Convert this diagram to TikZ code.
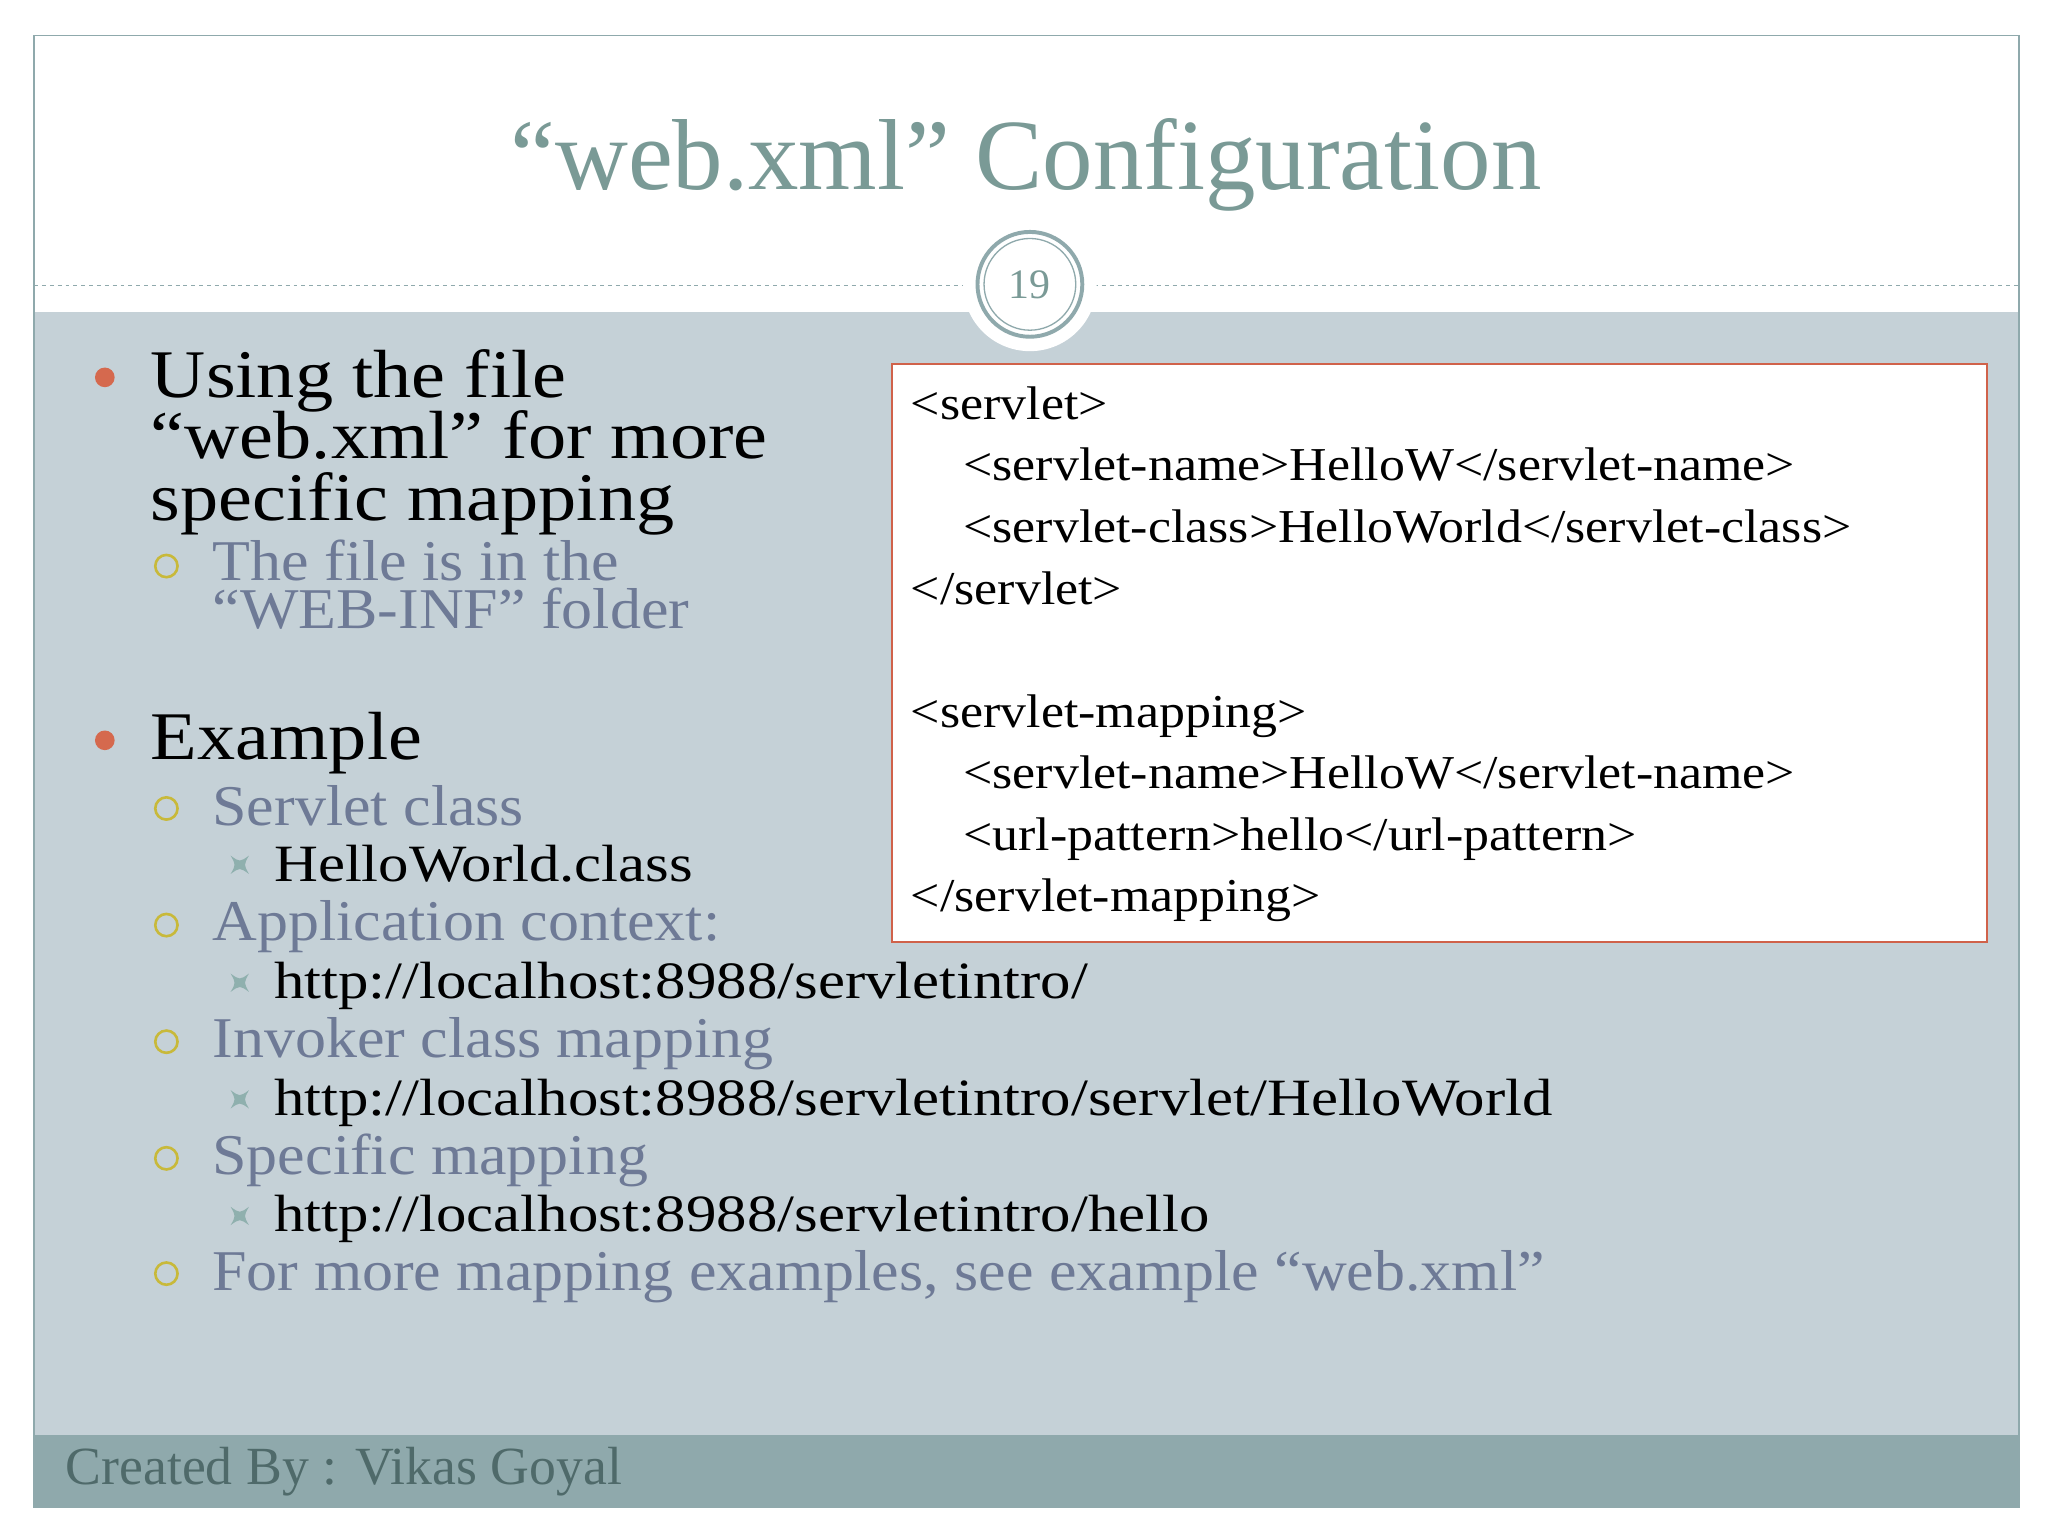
\documentclass[tikz,border=0pt]{standalone}
\usepackage{fontspec}
\usepackage{graphicx}
\setmainfont{Liberation Serif}
\newfontfamily\codefont{Liberation Serif}
\newcommand\sxa[1]{\scalebox{1.12}[1]{#1}}
\newcommand\sxb[1]{\scalebox{1.075}[1]{#1}}
\newcommand\sxc[1]{\scalebox{1.16}[1]{#1}}
\newcommand\sxd[1]{\scalebox{1.1}[1]{#1}}
\definecolor{band}{HTML}{C5D1D7}
\definecolor{foot}{HTML}{8FA9AC}
\definecolor{titlec}{HTML}{7A9A96}
\definecolor{subc}{HTML}{6E7A96}
\definecolor{dotc}{HTML}{D5694E}
\definecolor{ringc}{HTML}{C8B93A}
\definecolor{boxc}{HTML}{D0624A}
\definecolor{starc}{HTML}{8FB0AE}
\definecolor{footc}{HTML}{4F6A6A}
\begin{document}
\begin{tikzpicture}[x=1pt,y=-1pt,
  lone/.style={anchor=base west,inner sep=0pt,font=\fontsize{52}{52}\selectfont,text=black},
  ltwo/.style={anchor=base west,inner sep=0pt,font=\fontsize{44}{44}\selectfont,text=subc},
  lthree/.style={anchor=base west,inner sep=0pt,font=\fontsize{40}{40}\selectfont,text=black},
  code/.style={anchor=base west,inner sep=0pt,font=\codefont\fontsize{36}{36}\selectfont,text=black},
  dotb/.style={circle,fill=dotc,minimum size=15pt,inner sep=0pt},
  ringb/.style={circle,draw=ringc,line width=2pt,minimum size=17pt,inner sep=0pt},
  starb/.style={starc,line width=1pt}]
\useasboundingbox (0,0) rectangle (1563,1172);
\fill[white] (0,0) rectangle (1563,1172);
\fill[band] (26,238) rectangle (1541,1095);
\fill[foot] (26,1095) rectangle (1541,1150);
\draw[foot,line width=1.2pt] (26,27) rectangle (1541,1150);
\draw[foot,dashed,line width=0.8pt] (26,218) -- (735,218);
\draw[foot,dashed,line width=0.8pt] (835,218) -- (1541,218);
\fill[white] (786,217) circle (51);
\node[circle,draw=foot,line width=3pt,minimum size=80pt,inner sep=0pt] (numc) at (786,217) {};
\node[circle,draw=foot,line width=1pt,minimum size=70pt,inner sep=0pt,text=titlec,font=\fontsize{32}{32}\selectfont] (num) at (786,217) {19};
\node[anchor=base,inner sep=0pt,text=titlec,font=\fontsize{77}{77}\selectfont] (title) at (783,145) {“web.xml” Configuration};
% code box
\node[draw=boxc,fill=white,line width=1.5pt,minimum width=836pt,minimum height=441pt,anchor=north west] (box) at (680,277) {};
\node[code] (c1) at (695,320) {\sxd{<servlet>}};
\node[code] (c2) at (735,367) {\sxd{<servlet-name>HelloW</servlet-name>}};
\node[code] (c3) at (735,414) {\sxd{<servlet-class>HelloWorld</servlet-class>}};
\node[code] (c4) at (695,461) {\sxd{</servlet>}};
\node[code] (c5) at (695,555) {\sxd{<servlet-mapping>}};
\node[code] (c6) at (735,602) {\sxd{<servlet-name>HelloW</servlet-name>}};
\node[code] (c7) at (735,649) {\sxd{<url-pattern>hello</url-pattern>}};
\node[code] (c8) at (695,696) {\sxd{</servlet-mapping>}};
% bullets
\node[dotb] (d1) at (80,288) {};
\node[lone] (t1) at (115,303) {\sxa{Using the file}};
\node[lone] (t2) at (115,350) {\sxa{“web.xml” for more}};
\node[lone] (t3) at (115,397) {\sxa{specific mapping}};
\node[ringb] (r1) at (127,432) {};
\node[ltwo] (s1) at (162,443) {\sxb{The file is in the}};
\node[ltwo] (s2) at (162,480) {\sxb{“WEB-INF” folder}};
\node[dotb] (d2) at (80,565) {};
\node[lone] (t4) at (115,580) {\sxa{Example}};
\node[ringb] (r2) at (127,617) {};
\node[ltwo] (s3) at (162,630) {\sxb{Servlet class}};
\node[lthree] (u1) at (209,673) {\sxc{HelloWorld.class}};
\node[ringb] (r3) at (127,706) {};
\node[ltwo] (s4) at (162,718) {\sxb{Application context:}};
\node[lthree] (u2) at (209,762) {\sxc{http://localhost:8988/servletintro/}};
\node[ringb] (r4) at (127,795) {};
\node[ltwo] (s5) at (162,807) {\sxb{Invoker class mapping}};
\node[lthree] (u3) at (209,851) {\sxc{http://localhost:8988/servletintro/servlet/HelloWorld}};
\node[ringb] (r5) at (127,884) {};
\node[ltwo] (s6) at (162,896) {\sxb{Specific mapping}};
\node[lthree] (u4) at (209,940) {\sxc{http://localhost:8988/servletintro/hello}};
\node[ringb] (r6) at (127,972) {};
\node[ltwo] (s7) at (162,985) {\sxb{For more mapping examples, see example “web.xml”}};
\foreach \yy in {660,750,839,928}{
  \fill[starc] (176,\yy-7) .. controls (183,\yy-2) .. (190,\yy-7) .. controls (186,\yy) .. (190,\yy+7) .. controls (183,\yy+2) .. (176,\yy+7) .. controls (180,\yy) .. cycle;
}
\node[anchor=base west,inner sep=0pt,text=footc,font=\fontsize{41}{41}\selectfont] (foottxt) at (50,1133) {Created By : Vikas Goyal};
\end{tikzpicture}
\end{document}
